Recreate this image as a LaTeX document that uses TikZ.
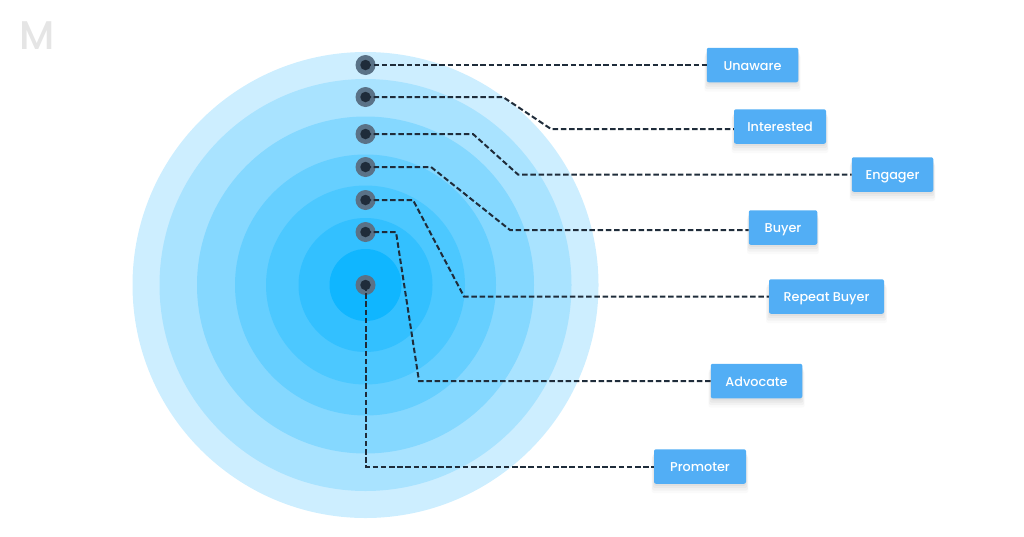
\documentclass[tikz,border=0pt]{standalone}
\usepackage{fontspec}
\setmainfont{Poppins Medium}
\usetikzlibrary{shadows}
\definecolor{ringa}{HTML}{CDEEFF}
\definecolor{ringb}{HTML}{A9E3FF}
\definecolor{ringc}{HTML}{85D8FF}
\definecolor{ringd}{HTML}{66CFFF}
\definecolor{ringe}{HTML}{4CC8FF}
\definecolor{ringf}{HTML}{33C0FF}
\definecolor{ringg}{HTML}{10B6FF}
\definecolor{boxblue}{HTML}{52AEF5}
\definecolor{wirecol}{HTML}{1F2C3A}
\definecolor{halocol}{HTML}{5A7287}
\tikzset{
  ring/.style={circle,inner sep=0pt,outer sep=0pt},
  halo/.style={circle,inner sep=0pt,minimum size=20pt,fill=halocol},
  pin/.style={circle,inner sep=0pt,minimum size=10.5pt,fill=wirecol},
  wire/.style={draw=wirecol,line width=2pt,dash pattern=on 5.5pt off 2.7pt},
  stage/.style={rectangle,rounded corners=2pt,fill=boxblue,text=white,inner sep=0pt,
    minimum height=34.5pt,text height=11pt,text depth=1pt,font=\fontsize{12.8}{15}\selectfont,
    drop shadow={shadow xshift=0pt,shadow yshift=-8pt,shadow scale=1.05,opacity=.02,fill=black},
    drop shadow={shadow xshift=0pt,shadow yshift=-6pt,shadow scale=1.04,opacity=.03,fill=black},
    drop shadow={shadow xshift=0pt,shadow yshift=-4pt,shadow scale=1.02,opacity=.04,fill=black},
    drop shadow={shadow xshift=0pt,shadow yshift=-2pt,opacity=.04,fill=black}},
}
\begin{document}
\begin{tikzpicture}[x=1pt,y=-1pt]
\useasboundingbox (0,0) rectangle (1024,536);
\node[text=black!10,font=\fontsize{40}{44}\selectfont,inner sep=0pt] (logo) at (37,36) {M};

% define the rings
  \node[ring,minimum size=466pt,fill=ringa] (r1) at (365.5,285) {};
  \node[ring,minimum size=412pt,fill=ringb] (r2) at (365.5,285) {};
  \node[ring,minimum size=337pt,fill=ringc] (r3) at (365.5,285) {};
  \node[ring,minimum size=261pt,fill=ringd] (r4) at (365.5,285) {};
  \node[ring,minimum size=199pt,fill=ringe] (r5) at (365.5,285) {};
  \node[ring,minimum size=134pt,fill=ringf] (r6) at (365.5,285) {};
  \node[ring,minimum size=72pt,fill=ringg]  (r7) at (365.5,285) {};

% define the dots
  \node[halo] (h1) at (365.5,65)  {};
  \node[halo] (h2) at (365.5,97)  {};
  \node[halo] (h3) at (365.5,134) {};
  \node[halo] (h4) at (365.5,167) {};
  \node[halo] (h5) at (365.5,200) {};
  \node[halo] (h6) at (365.5,232) {};
  \node[halo] (h7) at (365.5,285) {};
  \node[pin]  (d1) at (h1) {};
  \node[pin]  (d2) at (h2) {};
  \node[pin]  (d3) at (h3) {};
  \node[pin]  (d4) at (h4) {};
  \node[pin]  (d5) at (h5) {};
  \node[pin]  (d6) at (h6) {};
  \node[pin]  (d7) at (h7) {};

% define the labels
  \node[stage,minimum width=91.5pt] (unaware)    at (752.5,65)    {Unaware};
  \node[stage,minimum width=92pt]   (interested) at (780,126.5)   {Interested};
  \node[stage,minimum width=81.5pt] (engager)    at (892.5,174.5) {Engager};
  \node[stage,minimum width=68.5pt] (buyer)      at (783,227.5)   {Buyer};
  \node[stage,minimum width=115pt]  (repeat)     at (826.5,296.5) {Repeat Buyer};
  \node[stage,minimum width=91.5pt] (advocate)   at (756.5,381)   {Advocate};
  \node[stage,minimum width=92pt]   (promoter)   at (700,466.5)   {Promoter};

% define the links
  \draw[wire] (d1.center) -- (unaware.west);
  \draw[wire] (d2.center) -- (503,97)  -- (551,129) -- (interested.west |- 551,129);
  \draw[wire] (d3.center) -- (473,134) -- (518,174.5) -- (engager.west);
  \draw[wire] (d4.center) -- (431,167) -- (510,230) -- (buyer.west |- 510,230);
  \draw[wire] (d5.center) -- (413,200) -- (464,296.5) -- (repeat.west);
  \draw[wire] (d6.center) -- (396,232) -- (419,381) -- (advocate.west);
  \draw[wire] (d7.center) -- (365.5,466.5) -- (promoter.west);
\end{tikzpicture}
\end{document}
